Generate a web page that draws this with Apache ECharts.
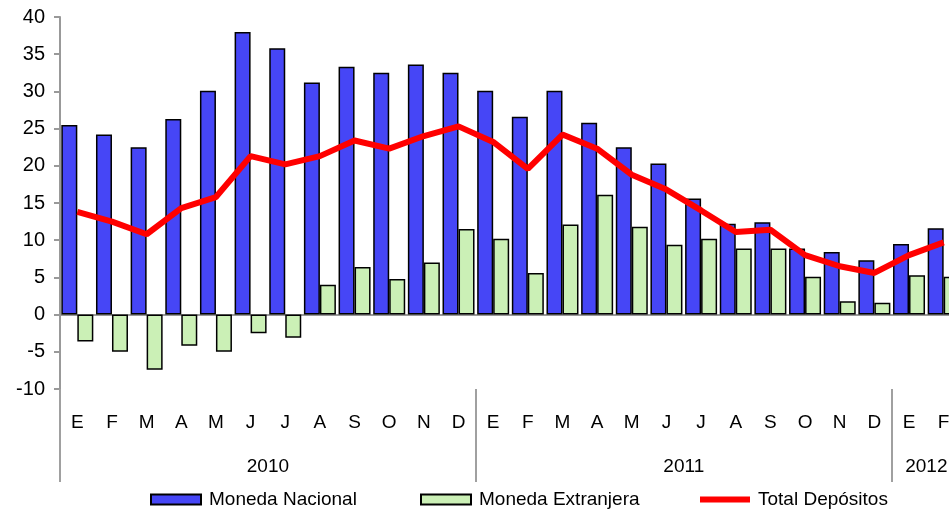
<!DOCTYPE html>
<html>
<head>
<meta charset="utf-8">
<script src="https://cdn.jsdelivr.net/npm/echarts@6/dist/echarts.min.js"></script>
<style>
html,body{margin:0;padding:0;background:#fff;}
#chart{width:949px;height:511px;}
</style>
</head>
<body>
<div id="chart"></div>
<script>
var months = ['E','F','M','A','M','J','J','A','S','O','N','D','E','F','M','A','M','J','J','A','S','O','N','D','E','F'];
var years = ['2010','2011','2012'];
var yearStart = [0, 12, 24];
var yearLabelPos = [6, 18, 25];

var monedaNacional = [25.5,24.2,22.5,26.3,30.1,38.0,35.8,31.2,33.3,32.5,33.6,32.5,
                      30.1,26.6,30.1,25.8,22.5,20.3,15.6,12.2,12.4,8.9,8.4,7.3,
                      9.5,11.6];
var monedaExtranjera = [-3.6,-5.0,-7.4,-4.2,-5.0,-2.5,-3.1,4.0,6.4,4.8,7.0,11.5,
                        10.2,5.6,12.1,16.1,11.8,9.4,10.2,8.9,8.9,5.1,1.8,1.6,
                        5.3,5.1];
var totalDepositos = [13.8,12.5,10.8,14.3,15.8,21.3,20.2,21.3,23.4,22.3,24.0,25.3,
                      23.2,19.6,24.2,22.3,18.8,16.8,14.0,11.1,11.4,8.0,6.5,5.6,
                      8.0,9.7];

var FONT = 'Liberation Sans, Arial, sans-serif';
var legendText = {fontSize: 19, color: '#000', fontFamily: FONT, padding: [0, 0, 0, 3]};
function legendBox(name, left, icon) {
  return {
    left: left, top: 485, itemWidth: 50, itemHeight: 10,
    symbolKeepAspect: true,
    textStyle: legendText,
    data: [{name: name, icon: icon}]
  };
}
var chart = echarts.init(document.getElementById('chart'), null, {renderer:'canvas'});
chart.setOption({
  animation: false,
  backgroundColor: '#ffffff',
  textStyle: {fontFamily: FONT},
  grid: {left: 60, top: 17, width: 901, height: 372, containLabel: false, outerBoundsMode: 'none'},
  legend: [
    legendBox('Moneda Nacional', 145, 'rect'),
    legendBox('Moneda Extranjera', 415, 'rect'),
    legendBox('Total Depósitos', 695, 'path://M0,0h50v6h-50z')
  ],
  xAxis: [
    {
      type: 'category', data: months, boundaryGap: true,
      axisLine: {onZero: true, lineStyle: {color: '#999999', width: 2}},
      axisTick: {show: false},
      axisLabel: {show: false},
      splitLine: {show: false}
    },
    {
      type: 'category', data: months, boundaryGap: true, position: 'bottom',
      axisLine: {show: false, onZero: false},
      axisTick: {
        show: true, length: 93, inside: false,
        interval: function (i) { return yearStart.indexOf(i) >= 0; },
        lineStyle: {color: '#a0a0a0', width: 2}
      },
      axisLabel: {interval: 0, margin: 24, fontSize: 19, color: '#000', fontFamily: FONT},
      splitLine: {show: false}
    },
    {
      type: 'value', min: 0, max: 26, interval: 1, position: 'bottom',
      axisLine: {show: false, onZero: false},
      axisTick: {show: false},
      splitLine: {show: false},
      axisLabel: {
        margin: 68, fontSize: 19, color: '#000', fontFamily: FONT,
        showMinLabel: true, showMaxLabel: true, hideOverlap: false,
        formatter: function (v) {
          var k = yearLabelPos.indexOf(Math.round(v));
          return k >= 0 ? years[k] : '';
        }
      }
    }
  ],
  yAxis: {
    type: 'value', min: -10, max: 40, interval: 5,
    axisLine: {show: true, lineStyle: {color: '#999999', width: 2}},
    axisTick: {show: true, length: 6, lineStyle: {color: '#999999', width: 2}},
    axisLabel: {fontSize: 20, color: '#000', margin: 15, fontFamily: FONT},
    splitLine: {show: false}
  },
  series: [
    {
      name: 'Moneda Nacional', type: 'bar', xAxisIndex: 0, data: monedaNacional,
      barWidth: 16, barGap: '0%',
      itemStyle: {color: '#4646f6', borderColor: '#000', borderWidth: 1.5}
    },
    {
      name: 'Moneda Extranjera', type: 'bar', xAxisIndex: 0, data: monedaExtranjera,
      barWidth: 16, barGap: '0%',
      itemStyle: {color: '#cbf0b6', borderColor: '#000', borderWidth: 1.5}
    },
    {
      name: 'Total Depósitos', type: 'line', xAxisIndex: 0, data: totalDepositos,
      symbol: 'none', showSymbol: false,
      lineStyle: {color: '#ff0000', width: 6},
      itemStyle: {color: '#ff0000'}
    }
  ]
});
</script>
</body>
</html>
